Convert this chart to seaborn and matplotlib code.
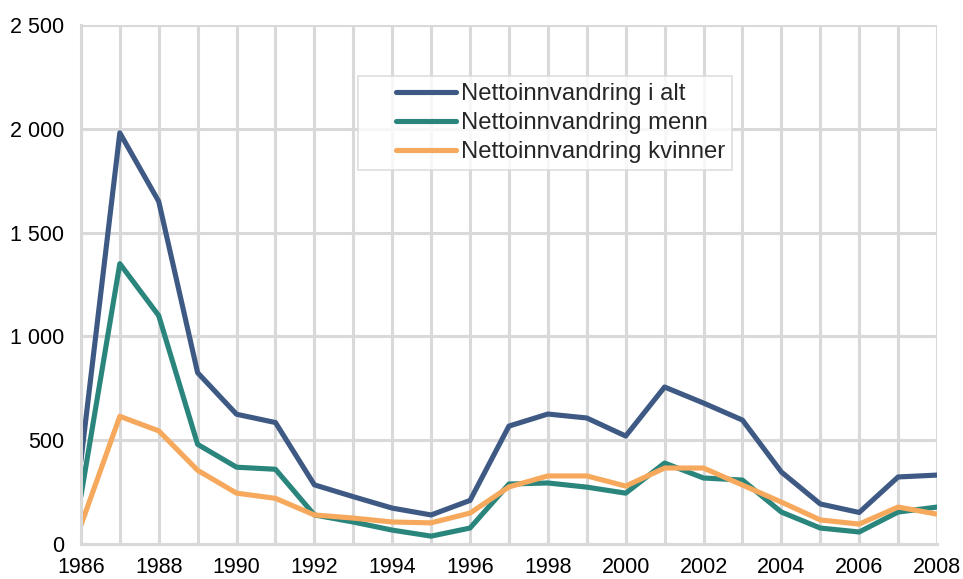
import matplotlib

matplotlib.use("Agg")
import matplotlib.pyplot as plt
import pandas as pd
import seaborn as sns
from matplotlib.ticker import FuncFormatter, MultipleLocator

years = list(range(1986, 2009))
total = [400, 1980, 1650, 825, 625, 585, 285, 228, 173, 140, 210, 568, 626, 607,
         520, 756, 679, 597, 347, 193, 152, 323, 332]
men = [230, 1350, 1100, 480, 370, 360, 140, 106, 67, 38, 77, 289, 294, 274,
       245, 390, 318, 308, 154, 77, 58, 154, 178]
women = [90, 615, 545, 355, 245, 220, 140, 125, 106, 102, 149, 275, 328, 328,
         279, 366, 366, 284, 202, 116, 96, 178, 144]

series_names = [
    "Nettoinnvandring i alt",
    "Nettoinnvandring menn",
    "Nettoinnvandring kvinner",
]
colors = ["#3e5a84", "#2a857d", "#f6a95c"]

df = pd.concat(
    [
        pd.DataFrame({"year": years, "value": vals, "series": name})
        for name, vals in zip(series_names, [total, men, women])
    ]
)

sns.set_style("white")
plt.rcParams["font.family"] = ["Liberation Sans", "DejaVu Sans"]

fig = plt.figure(figsize=(9.63, 5.79), dpi=100)
ax = fig.add_axes([0.084, 0.0604, 0.889, 0.8966])

sns.lineplot(
    data=df,
    x="year",
    y="value",
    hue="series",
    hue_order=series_names,
    palette=colors,
    linewidth=3.7,
    ax=ax,
    solid_capstyle="round",
)

ax.set_xlim(1986, 2008)
ax.set_ylim(0, 2500)
ax.xaxis.set_major_locator(MultipleLocator(2))
ax.xaxis.set_minor_locator(MultipleLocator(1))
ax.yaxis.set_major_locator(MultipleLocator(500))
ax.yaxis.set_major_formatter(
    FuncFormatter(lambda v, _: f"{int(v):,}".replace(",", " "))
)
ax.grid(True, which="both", axis="x", color="#d9d9d9", linewidth=2.2)
ax.grid(True, which="major", axis="y", color="#d9d9d9", linewidth=2.2)
ax.set_axisbelow(True)
for side in ["top", "right"]:
    ax.spines[side].set_visible(False)
for side in ["left", "bottom"]:
    ax.spines[side].set_color("#d9d9d9")
    ax.spines[side].set_linewidth(2.2)
ax.tick_params(axis="both", which="both", length=0, labelsize=15.5, colors="black")
ax.tick_params(axis="y", pad=12)
ax.tick_params(axis="x", pad=9)
ax.set_xlabel("")
ax.set_ylabel("")

leg = ax.legend(
    loc="upper left",
    bbox_to_anchor=(0.324, 0.902),
    borderaxespad=0,
    fontsize=17.2,
    frameon=True,
    fancybox=False,
    edgecolor="#d9d9d9",
    handlelength=3.8,
    labelspacing=0.3,
    borderpad=0.3,
    handletextpad=0.2,
)
leg.get_frame().set_linewidth(1.3)
for line in leg.get_lines():
    line.set_linewidth(3.7)
    xd = list(line.get_xdata())
    x0, x1 = xd[0], xd[-1]
    line.set_xdata([x0 + (x1 - x0) * 0.34, x1])
    line.set_ydata([line.get_ydata()[0]] * 2)

fig.savefig("out.png", dpi=100)
